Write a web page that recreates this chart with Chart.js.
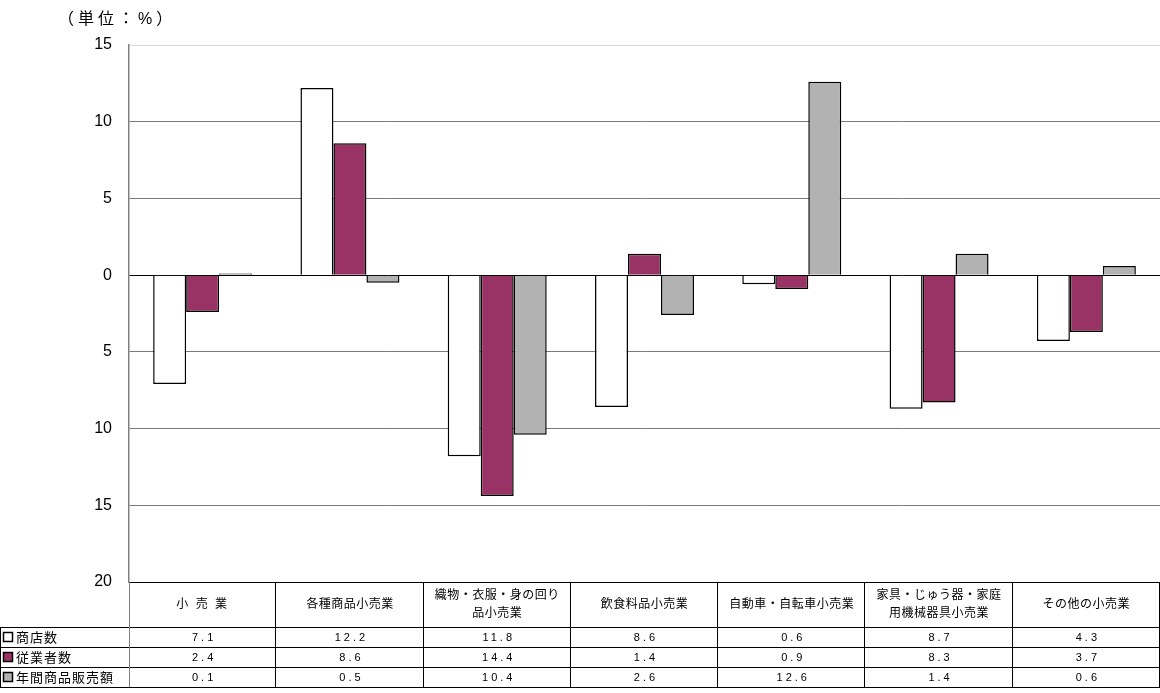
<!DOCTYPE html>
<html>
<head>
<meta charset="utf-8">
<script src="https://cdn.jsdelivr.net/npm/chart.js@4.4.0/dist/chart.umd.min.js"></script>
<style>
  html, body { margin: 0; padding: 0; background: #fff; }
  #wrap { width: 1160px; height: 693px; }
</style>
</head>
<body>
<div id="wrap"><canvas id="myChart" width="1160" height="693"></canvas></div>
<script>
// categories (multi-line header labels for the table)
const categories = [
    ['小 売 業'],
    ['各種商品小売業'],
    ['織物・衣服・身の回り', '品小売業'],
    ['飲食料品小売業'],
    ['自動車・自転車小売業'],
    ['家具・じゅう器・家庭', '用機械器具小売業'],
    ['その他の小売業']
];
const seriesNames = ['商店数', '従業者数', '年間商品販売額'];
const seriesColors = ['#ffffff', '#993366', '#b2b2b2'];

// change rates (%)
const stores = [-7.1, 12.2, -11.8, -8.6, -0.6, -8.7, -4.3];
const employees = [-2.4, 8.6, -14.4, 1.4, -0.9, -8.3, -3.7];
const sales = [0.1, -0.5, -10.4, -2.6, 12.6, 1.4, 0.6];

const yMin = -20;
const yMax = 15;
const yStep = 5;

const FONT = '"Liberation Sans", Arial, "Noto Sans CJK JP", sans-serif';

// draws the unit label and the data table under the plot
const tablePlugin = {
    id: 'dataTable',
    afterDraw(chart) {
        const c = chart.ctx;
        const area = chart.chartArea;
        const colW = (area.right - area.left) / categories.length;
        const rows = [stores, employees, sales];
        const headTop = area.bottom;
        const headBottom = headTop + 45;
        const rowH = 20;
        const tableBottom = headBottom + rowH * rows.length;

        c.save();

        // unit label
        c.fillStyle = '#000';
        c.font = '16px ' + FONT;
        c.textAlign = 'left';
        c.textBaseline = 'middle';
        c.letterSpacing = '4px';
        c.fillText('（単位：%）', 58, 20);
        c.letterSpacing = '0px';

        c.strokeStyle = '#000';
        c.lineWidth = 1;
        c.beginPath();
        // horizontal row lines
        c.moveTo(area.left, headTop + 0.5);
        c.lineTo(area.right, headTop + 0.5);
        for (let r = 0; r <= rows.length; r++) {
            const y = Math.round(headBottom + r * rowH) + 0.5;
            c.moveTo(0, y);
            c.lineTo(area.right, y);
        }
        // vertical column lines
        for (let i = 1; i <= categories.length; i++) {
            const x = Math.round(area.left + i * colW) - 0.5;
            c.moveTo(x, headTop);
            c.lineTo(x, tableBottom);
        }
        c.moveTo(0.5, headBottom);
        c.lineTo(0.5, tableBottom);
        c.stroke();

        c.strokeStyle = '#808080';
        c.beginPath();
        c.moveTo(area.left + 0.5, headTop);
        c.lineTo(area.left + 0.5, tableBottom);
        c.stroke();

        // header labels
        c.fillStyle = '#000';
        c.font = '12px ' + FONT;
        c.textAlign = 'center';
        categories.forEach((lines, i) => {
            const cx = area.left + (i + 0.5) * colW;
            const cy = (headTop + headBottom) / 2;
            lines.forEach((t, k) => {
                const y = cy + (k - (lines.length - 1) / 2) * 18;
                c.letterSpacing = lines.length === 1 && t.includes(' ') ? '2px' : '0.5px';
                c.fillText(t, cx, y);
            });
        });
        c.letterSpacing = '0px';

        // legend column + values
        rows.forEach((vals, r) => {
            const cy = headBottom + r * rowH + rowH / 2;
            c.fillStyle = seriesColors[r];
            c.fillRect(3, cy - 5, 10, 10);
            c.strokeStyle = '#000';
            c.lineWidth = 1.5;
            c.strokeRect(3.5, cy - 4.5, 9, 9);
            c.fillStyle = '#000';
            c.font = '13px ' + FONT;
            c.textAlign = 'left';
            c.letterSpacing = '1px';
            c.fillText(seriesNames[r], 16, cy + 1);

            c.font = '11px ' + FONT;
            c.textAlign = 'center';
            c.letterSpacing = '3px';
            vals.forEach((v, i) => {
                const cx = area.left + (i + 0.5) * colW;
                c.fillText(Math.abs(v).toFixed(1), cx + 1.5, cy + 1);
            });
            c.letterSpacing = '0px';
        });

        c.restore();
    }
};

const ctx = document.getElementById('myChart').getContext('2d');
const myChart = new Chart(ctx, {
    type: 'bar',
    data: {
        labels: categories.map(l => l.join('')),
        datasets: [stores, employees, sales].map((d, i) => ({
            label: seriesNames[i],
            data: d,
            backgroundColor: seriesColors[i],
            borderColor: '#000',
            borderWidth: 1.5,
            categoryPercentage: 0.672,
            barPercentage: 1
        }))
    },
    options: {
        responsive: false,
        animation: false,
        layout: {
            padding: { top: 45, bottom: 111, left: 0, right: 0 }
        },
        plugins: {
            legend: { display: false },
            tooltip: { enabled: false }
        },
        scales: {
            x: { display: false },
            y: {
                min: yMin,
                max: yMax,
                afterFit(scale) { scale.width = 129; },
                ticks: {
                    stepSize: yStep,
                    padding: 17,
                    color: '#000',
                    font: { family: FONT, size: 16 },
                    callback: v => Math.abs(v)
                },
                grid: {
                    drawTicks: false,
                    color: c => {
                        const v = c.tick.value;
                        if (v === 0 || v === yMin) return '#000';
                        if (v === yMax) return '#d8d8d8';
                        return '#7a7a7a';
                    }
                },
                border: { color: '#808080', width: 1.5 }
            }
        }
    },
    plugins: [tablePlugin]
});
</script>
</body>
</html>
